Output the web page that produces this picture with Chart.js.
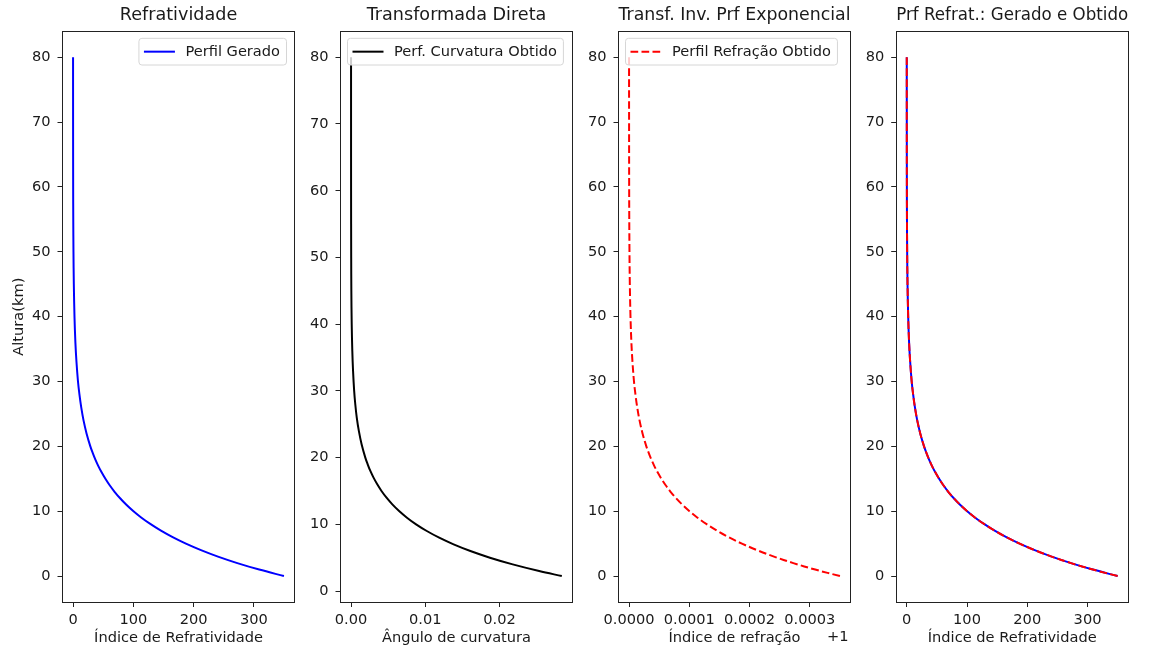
<!DOCTYPE html>
<html lang="pt">
<head>
<meta charset="utf-8">
<title>Perfis de refratividade</title>
<script src="https://cdn.jsdelivr.net/npm/chart.js@4.4.1/dist/chart.umd.min.js"></script>
<style>
  html, body { margin: 0; padding: 0; background: #fff; }
  #figura { position: relative; width: 1152px; height: 652px; overflow: hidden; background: #fff; }
  #figura canvas { position: absolute; top: 0; }
</style>
</head>
<body>
<div id="figura"></div>
<script>
'use strict';

// ── Dados ───────────────────────────────────────────────
const altura = [0, 1, 2, 3, 4, 5, 6, 7, 8, 9, 10, 11, 12, 13, 14, 15, 16, 17, 18, 19, 20,
                22, 24, 26, 28, 30, 33, 36, 40, 45, 50, 55, 60, 70, 80];           // km
const refratividadeGerada = [350, 308.9, 272.6, 240.5, 212.3, 187.3, 165.3, 145.9, 128.8, 113.6, 100.3,
                             88.5, 78.1, 68.9, 60.8, 53.7, 47.4, 41.8, 36.9, 32.6, 28.7,
                             22.4, 17.4, 13.6, 10.6, 8.2, 5.7, 3.9, 2.4, 1.3, 0.7, 0.36, 0.19, 0.06, 0.02];
const refratividadeObtida = [350, 308.9, 272.6, 240.5, 212.3, 187.3, 165.3, 145.9, 128.8, 113.6, 100.3,
                             88.5, 78.1, 68.9, 60.8, 53.7, 47.4, 41.8, 36.9, 32.6, 28.7,
                             22.4, 17.4, 13.6, 10.6, 8.2, 5.7, 3.9, 2.4, 1.3, 0.7, 0.36, 0.19, 0.06, 0.02];

const alturaCurvatura = [2.25, 3, 4, 5, 6, 7, 8, 9, 10, 11, 12, 13, 14, 15, 16, 17, 18, 19, 20,
                         22, 24, 26, 28, 30, 33, 36, 40, 45, 50, 60, 70, 80];     // km
const anguloCurvatura = [0.02838, 0.02533, 0.02177, 0.01870, 0.01607, 0.01381, 0.01187, 0.01020, 0.00876,
                         0.00753, 0.00647, 0.00556, 0.00478, 0.00410, 0.00353, 0.00303, 0.00260, 0.00224,
                         0.00192, 0.00142, 0.00105, 0.00077, 0.00057, 0.00042, 0.00027, 0.00017, 0.00009,
                         0.00004, 0.00002, 0.000004, 0.000001, 0.0000002];

const ticksAltura  = [0, 10, 20, 30, 40, 50, 60, 70, 80];
const ticksRefrat  = [0, 100, 200, 300];
const ticksAngulo  = [0, 0.01, 0.02];
const ticksIndice  = [0, 0.0001, 0.0002, 0.0003];   // + 1

// ── Layout ──────────────────────────────────────────────
const FIG_H    = 652;
const PLOT_W   = 232;
const XAXIS_H  = 50;
const plotLeft = [62.5, 340.5, 618.5, 896.2];
const FONTE    = "'DejaVu Sans', sans-serif";
const COR_TXT  = '#1a1a1a';
const TRACO    = [7.7, 3.3];
const F_TXT    = 14.6;   // ticks, rótulos, legenda
const F_TIT    = 17.6;   // títulos

Chart.defaults.font.family = FONTE;

function pontos(xs, ys) { return xs.map((x, i) => ({ x, y: ys[i] })); }

function linha(dados, cor, extra) {
  return Object.assign({
    data: dados, borderColor: cor, backgroundColor: cor,
    borderWidth: 2, showLine: true, pointRadius: 0, pointHoverRadius: 0,
    tension: 0.35,
  }, extra || {});
}

// ── Moldura, legenda interna e deslocamento do eixo ─────
const moldura = {
  id: 'moldura',
  afterDraw(chart, args, opts) {
    const { ctx, chartArea: a } = chart;
    ctx.save();
    const px = v => Math.floor(v) + 0.5;
    ctx.strokeStyle = '#222';
    ctx.lineWidth = 1;
    ctx.strokeRect(px(a.left), px(a.top), px(a.right) - px(a.left), px(a.bottom) - px(a.top));

    const leg = opts.legenda;
    if (leg) {
      ctx.font = `${F_TXT}px ${FONTE}`;
      const wTxt = ctx.measureText(leg.texto).width;
      const w = wTxt + 46.5 + 6.5, h = 26.7;
      const x0 = leg.lado === 'right' ? a.right - 8 - w : a.left + 7;
      const y0 = a.top + 7;
      ctx.beginPath();
      ctx.roundRect(x0, y0, w, h, 3);
      ctx.fillStyle = 'rgba(255,255,255,0.8)';
      ctx.fill();
      ctx.strokeStyle = '#d6d6d6';
      ctx.stroke();
      const yc = y0 + h / 2;
      ctx.beginPath();
      ctx.setLineDash(leg.tracejado ? TRACO : []);
      ctx.moveTo(x0 + 5, yc);
      ctx.lineTo(x0 + 36, yc);
      ctx.strokeStyle = leg.cor;
      ctx.lineWidth = 2;
      ctx.stroke();
      ctx.setLineDash([]);
      ctx.fillStyle = COR_TXT;
      ctx.textBaseline = 'middle';
      ctx.textAlign = 'left';
      ctx.fillText(leg.texto, x0 + 46.5, yc + 0.5);
    }

    if (opts.deslocamento) {
      ctx.font = `${F_TXT}px ${FONTE}`;
      ctx.fillStyle = COR_TXT;
      ctx.textAlign = 'right';
      ctx.textBaseline = 'middle';
      ctx.fillText(opts.deslocamento, a.right - 2, 637);
    }
    ctx.restore();
  },
};

// ── Painéis ─────────────────────────────────────────────
function criarPainel(i, cfg) {
  const left = i === 0 ? 0 : Math.floor(plotLeft[i] - 46);
  const yW = plotLeft[i] - left;
  const canvas = document.createElement('canvas');
  canvas.width = Math.ceil(yW + PLOT_W + 4);
  canvas.height = FIG_H;
  canvas.style.left = left + 'px';
  canvas.style.width = canvas.width + 'px';
  canvas.style.height = FIG_H + 'px';
  document.getElementById('figura').appendChild(canvas);

  const eixoBase = {
    type: 'linear',
    grid: { drawOnChartArea: false, drawTicks: true, tickLength: 5, color: '#222' },
    border: { display: false },
  };

  return new Chart(canvas, {
    type: 'scatter',
    data: { datasets: cfg.datasets },
    options: {
      responsive: false,
      animation: false,
      devicePixelRatio: 1,
      events: [],
      layout: { padding: { left: 0, top: 0, bottom: 0, right: canvas.width - yW - PLOT_W } },
      plugins: {
        legend: { display: false },
        tooltip: { enabled: false },
        title: {
          display: true, text: cfg.titulo, fullSize: false, color: COR_TXT,
          font: { size: F_TIT, weight: 'normal' }, padding: { top: 5, bottom: 5.2 },
        },
        moldura: { legenda: cfg.legenda, deslocamento: cfg.deslocamento },
      },
      scales: {
        x: Object.assign({}, eixoBase, {
          min: cfg.xMin, max: cfg.xMax,
          afterBuildTicks: s => { s.ticks = cfg.xTicks.map(v => ({ value: v })); },
          afterFit: s => { s.height = XAXIS_H; },
          ticks: { font: { size: F_TXT }, color: COR_TXT, padding: 4, maxRotation: 0, autoSkip: false,
                   callback: v => cfg.xFmt(v) },
          title: { display: true, text: cfg.xTitulo, color: COR_TXT, font: { size: F_TXT },
                   padding: { top: 0, bottom: 5.2 } },
        }),
        y: Object.assign({}, eixoBase, {
          min: cfg.yMin, max: cfg.yMax,
          afterBuildTicks: s => { s.ticks = ticksAltura.map(v => ({ value: v })); },
          afterFit: s => { s.width = yW; },
          ticks: { font: { size: F_TXT }, color: COR_TXT, padding: 7, autoSkip: false },
          title: { display: !!cfg.yTitulo, text: cfg.yTitulo || '', color: COR_TXT,
                   font: { size: F_TXT }, padding: { top: 10.4, bottom: 0 } },
        }),
      },
    },
    plugins: [moldura],
  });
}

const fmtInt = v => String(Math.round(v));

criarPainel(0, {
  titulo: 'Refratividade',
  xTitulo: 'Índice de Refratividade', yTitulo: 'Altura(km)',
  xMin: -17.5, xMax: 367.5, yMin: -4, yMax: 84,
  xTicks: ticksRefrat, xFmt: fmtInt,
  legenda: { lado: 'right', texto: 'Perfil Gerado', cor: '#0000ff' },
  datasets: [linha(pontos(refratividadeGerada, altura), '#0000ff')],
});

criarPainel(1, {
  titulo: 'Transformada Direta',
  xTitulo: 'Ângulo de curvatura',
  xMin: -0.00142, xMax: 0.02982, yMin: -1.64, yMax: 83.89,
  xTicks: ticksAngulo, xFmt: v => v.toFixed(2),
  legenda: { lado: 'left', texto: 'Perf. Curvatura Obtido', cor: '#000000' },
  datasets: [linha(pontos(anguloCurvatura, alturaCurvatura), '#000000')],
});

criarPainel(2, {
  titulo: 'Transf. Inv. Prf Exponencial',
  xTitulo: 'Índice de refração',
  xMin: -0.0000175, xMax: 0.0003675, yMin: -4, yMax: 84,
  xTicks: ticksIndice, xFmt: v => v.toFixed(4),
  deslocamento: '+1',
  legenda: { lado: 'left', texto: 'Perfil Refração Obtido', cor: '#ff0000', tracejado: true },
  datasets: [linha(pontos(refratividadeObtida.map(n => n * 1e-6), altura), '#ff0000',
                   { borderDash: TRACO })],
});

criarPainel(3, {
  titulo: 'Prf Refrat.: Gerado e Obtido',
  xTitulo: 'Índice de Refratividade',
  xMin: -17.5, xMax: 367.5, yMin: -4, yMax: 84,
  xTicks: ticksRefrat, xFmt: fmtInt,
  datasets: [
    linha(pontos(refratividadeGerada, altura), '#0000ff', { order: 1 }),
    linha(pontos(refratividadeObtida, altura), '#ff0000', { order: 0, borderDash: TRACO }),
  ],
});
</script>
</body>
</html>
